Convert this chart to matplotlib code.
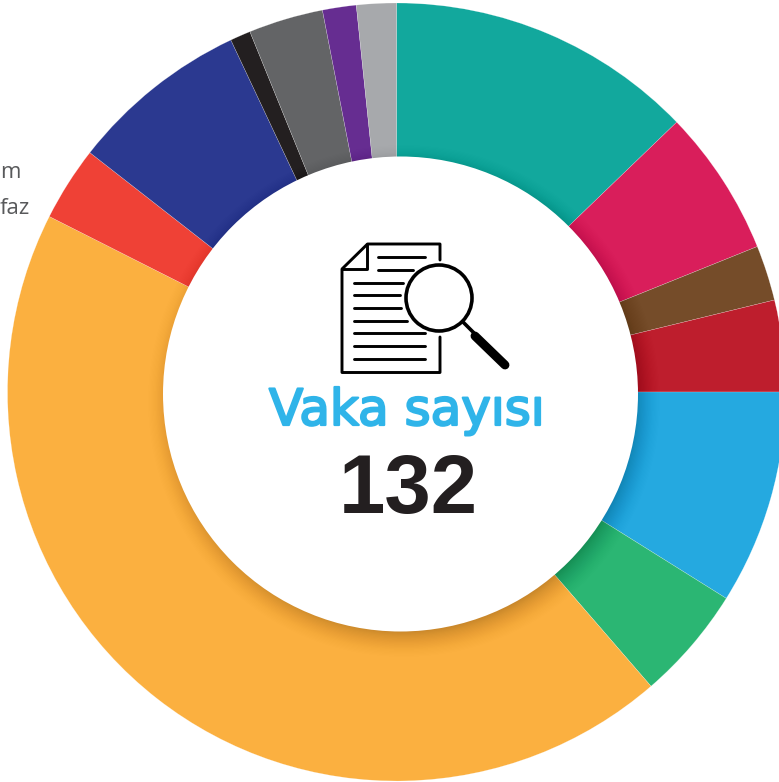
import matplotlib
matplotlib.use("Agg")
import matplotlib.pyplot as plt
import matplotlib.patheffects as pe
from matplotlib.patches import Circle

# share of the 132 cases per slice in percent, clockwise from the top
shares = [12.8, 6.1, 2.3, 3.8, 8.9, 4.75, 43.8, 3.1, 7.45, 0.85, 3.1, 1.4, 1.65]
colors = ["#12a89d", "#d91e5b", "#754c29", "#be1e2d", "#25a9e0", "#2bb673", "#fbb040",
          "#ef4136", "#2b3990", "#231f20", "#636466", "#662d91", "#a7a9ac"]
center_title = "Vaka sayısı"
center_value = "132"
cut_labels = [("m", 20.5, 173), ("faz", 30, 209)]

W, H = 779, 782

fig = plt.figure(figsize=(W / 100, H / 100), dpi=100)
ax = fig.add_axes([0, 0, 1, 1])

# y is flipped so everything below is in picture pixels, start -90 is the top
wedges, _ = ax.pie(shares, colors=colors, startangle=-90, counterclock=True,
                   center=(396.5, 392), radius=389,
                   wedgeprops={"linewidth": 0.25, "edgecolor": "#ffffff80"})
ax.set_xlim(0, W)
ax.set_ylim(H, 0)
ax.set_aspect("equal")
ax.axis("off")

# soft shadow of the inner disc, stacked see-through circles clipped to the ring
# biggest circle first, they get a bit stronger going in so the outer edge fades out
ring_clip = Circle((396.5, 392), 389, transform=ax.transData)
for i in range(24):
    c = Circle((404, 401), 256 - i * 1.25, fc="black", ec="none",
               alpha=0.002 + 0.0007 * i, zorder=3)
    ax.add_patch(c)
    c.set_clip_path(ring_clip)

ax.add_patch(Circle((400.5, 394), 237.5, fc="white", ec="none", zorder=4))

# document icon
ink = dict(color="black", lw=2.1, zorder=5, solid_capstyle="round", solid_joinstyle="round")
ax.plot([440, 440, 367.5, 342, 342, 440, 440], [260, 244, 244, 269, 372.5, 372.5, 337], **ink)
ax.plot([367.5, 367.5, 342], [244, 269, 269], **ink)
text_lines = [(378, 425, 257), (378, 413, 270), (354, 403, 282.5), (354, 400, 295),
              (354, 401, 308), (354, 407, 320.5), (354, 425, 333), (354, 425, 345.5),
              (354, 425, 358.5)]
for x0, x1, y in text_lines:
    ax.plot([x0, x1], [y, y], **ink)

# magnifier
ax.add_patch(Circle((439, 298), 33, fc="white", ec="black", lw=2.6, zorder=6))
ax.plot([463, 474], [322, 333], color="black", lw=2.6, zorder=6)
ax.plot([475, 505], [336, 365], color="black", lw=6.4, zorder=6, solid_capstyle="round")

ax.text(407, 425, center_title, color="#2fb4e9", fontsize=36, fontfamily="DejaVu Sans",
        ha="center", va="baseline", zorder=6,
        path_effects=[pe.withStroke(linewidth=1.6, foreground="#2fb4e9")])
ax.text(408, 513, center_value, color="#231f20", fontsize=60, fontweight="bold",
        fontfamily="Liberation Sans", ha="center", va="baseline", zorder=6)

for s, x, y in cut_labels:
    ax.text(x, y, s, color="#58595b", fontsize=16, fontfamily="Open Sans",
            ha="right", va="center", zorder=6)

fig.savefig("out.png", dpi=100)
